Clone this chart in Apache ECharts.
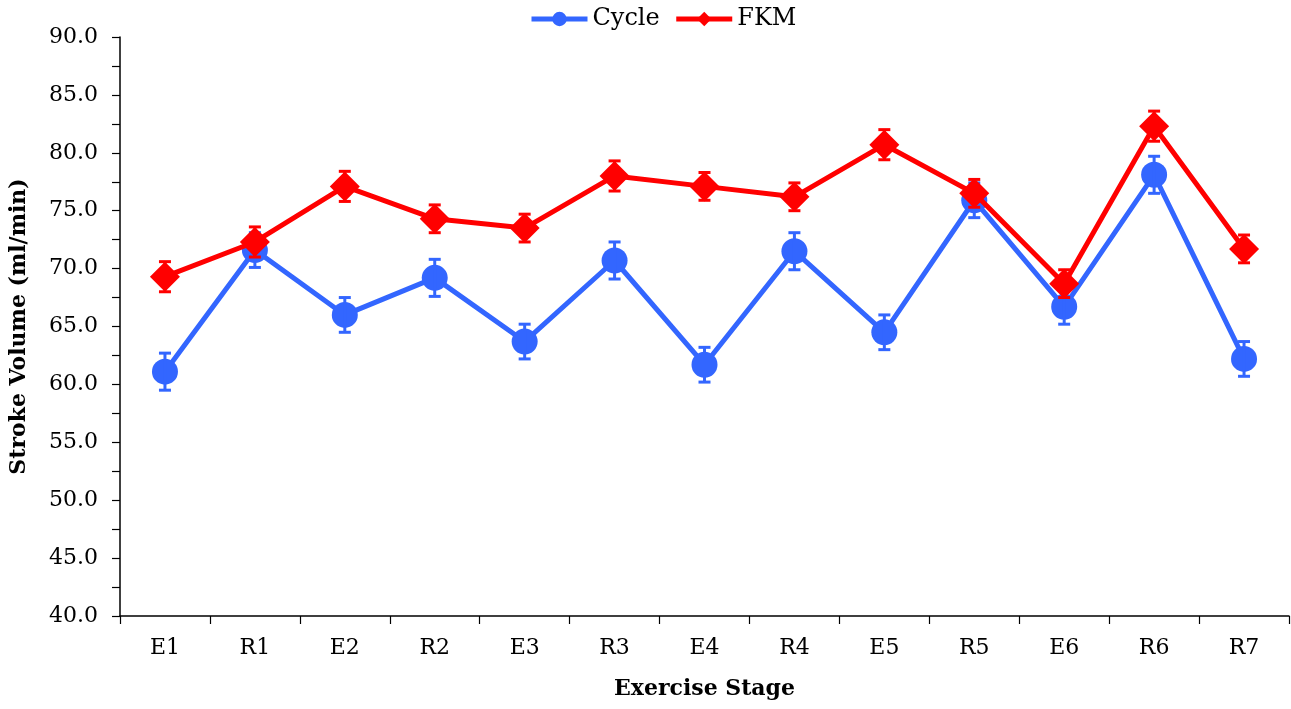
<!DOCTYPE html>
<html>
<head>
<meta charset="utf-8">
<script src="https://cdn.jsdelivr.net/npm/echarts@6/dist/echarts.min.js"></script>
<style>html,body{margin:0;padding:0;background:#fff}#c{width:1291px;height:709px}</style>
</head>
<body>
<div id="c"></div>
<script>
var categories = ['E1','R1','E2','R2','E3','R3','E4','R4','E5','R5','E6','R6','R7'];
var cycleValues = [61.1, 71.6, 66.0, 69.2, 63.7, 70.7, 61.7, 71.5, 64.5, 75.9, 66.7, 78.1, 62.2];
var cycleErrors = [1.6, 1.5, 1.5, 1.6, 1.5, 1.6, 1.5, 1.6, 1.5, 1.5, 1.5, 1.6, 1.5];
var fkmValues = [69.3, 72.3, 77.1, 74.3, 73.5, 78.0, 77.1, 76.2, 80.7, 76.5, 68.7, 82.3, 71.7];
var fkmErrors = [1.3, 1.3, 1.3, 1.2, 1.2, 1.3, 1.2, 1.2, 1.3, 1.2, 1.2, 1.3, 1.2];
var yTickValues = [40, 45, 50, 55, 60, 65, 70, 75, 80, 85, 90];

var BLUE = '#3366FF', RED = '#FF0000';
var FONT = 'DejaVu Serif';

function errData(vals, errs) {
  return vals.map(function (v, i) { return [i, v - errs[i], v + errs[i]]; });
}
function errRender(color) {
  return function (params, api) {
    var x = api.value(0);
    var lo = api.coord([x, api.value(1)]);
    var hi = api.coord([x, api.value(2)]);
    var hw = 6;
    var st = { stroke: color, lineWidth: 3 };
    return { type: 'group', children: [
      { type: 'line', shape: { x1: lo[0], y1: lo[1], x2: hi[0], y2: hi[1] }, style: st },
      { type: 'line', shape: { x1: lo[0] - hw, y1: lo[1], x2: lo[0] + hw, y2: lo[1] }, style: st },
      { type: 'line', shape: { x1: hi[0] - hw, y1: hi[1], x2: hi[0] + hw, y2: hi[1] }, style: st }
    ]};
  };
}

var chart = echarts.init(document.getElementById('c'), null, { renderer: 'canvas' });
chart.setOption({
  animation: false,
  backgroundColor: '#fff',
  textStyle: { fontFamily: FONT, color: '#000' },
  legend: {
    data: ['Cycle', 'FKM'],
    top: 2,
    left: 524,
    itemWidth: 56,
    itemHeight: 18,
    itemGap: 14,
    lineStyle: { width: 5 },
    textStyle: { fontFamily: FONT, fontSize: 24, color: '#000' }
  },
  grid: { left: 119, right: 2, top: 37, bottom: 93, containLabel: false },
  xAxis: {
    type: 'category',
    data: categories,
    boundaryGap: true,
    name: 'Exercise Stage',
    nameLocation: 'middle',
    nameGap: 62,
    nameTextStyle: { fontFamily: FONT, fontSize: 22, fontWeight: 'bold', color: '#000' },
    axisLine: { lineStyle: { color: '#000', width: 1.5 } },
    axisTick: { show: true, length: 8, alignWithLabel: false, lineStyle: { color: '#000', width: 1.2 } },
    axisLabel: { fontFamily: FONT, fontSize: 22, color: '#000', margin: 21 },
    splitLine: { show: false }
  },
  yAxis: {
    type: 'value',
    min: 40, max: 90, interval: 5,
    name: 'Stroke Volume (ml/min)',
    nameLocation: 'middle',
    nameGap: 90,
    nameRotate: 90,
    nameTextStyle: { fontFamily: FONT, fontSize: 22, fontWeight: 'bold', color: '#000' },
    axisLine: { show: true, lineStyle: { color: '#000', width: 1.5 } },
    axisTick: { show: true, length: 8, inside: false, lineStyle: { color: '#000', width: 1.2 } },
    minorTick: { show: true, splitNumber: 2, length: 8, lineStyle: { color: '#000', width: 1.2 } },
    axisLabel: {
      fontFamily: FONT, fontSize: 22, color: '#000', margin: 22,
      formatter: function (v) { return yTickValues.indexOf(v) >= 0 ? v.toFixed(1) : ''; }
    },
    splitLine: { show: false }
  },
  series: [
    {
      name: 'Cycle', type: 'line', data: cycleValues,
      symbol: 'circle', symbolSize: 26,
      itemStyle: { color: BLUE },
      lineStyle: { color: BLUE, width: 5 },
      z: 2
    },
    {
      type: 'custom', name: 'CycleErr', data: errData(cycleValues, cycleErrors),
      encode: { x: 0, y: [1, 2] }, renderItem: errRender(BLUE), z: 3, silent: true
    },
    {
      name: 'FKM', type: 'line', data: fkmValues,
      symbol: 'diamond', symbolSize: 30,
      itemStyle: { color: RED },
      lineStyle: { color: RED, width: 5 },
      z: 4
    },
    {
      type: 'custom', name: 'FKMErr', data: errData(fkmValues, fkmErrors),
      encode: { x: 0, y: [1, 2] }, renderItem: errRender(RED), z: 5, silent: true
    }
  ]
});
</script>
</body>
</html>
